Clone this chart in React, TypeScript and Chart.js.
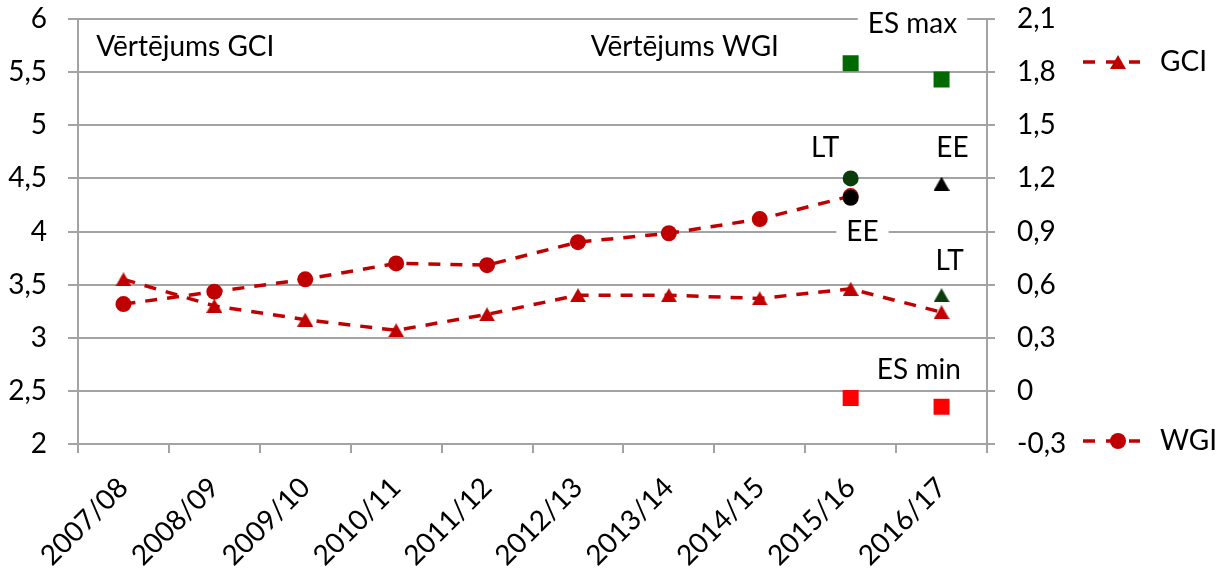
import React, { useEffect, useRef } from 'react';
import { Chart, registerables } from 'chart.js';

Chart.register(...registerables);

const categories = ['2007/08', '2008/09', '2009/10', '2010/11', '2011/12', '2012/13', '2013/14', '2014/15', '2015/16', '2016/17'];
const gciValues = [3.55, 3.30, 3.17, 3.07, 3.22, 3.40, 3.40, 3.37, 3.46, 3.24];
const wgiValues = [0.49, 0.56, 0.63, 0.72, 0.71, 0.84, 0.89, 0.97, 1.10, null];
const esMaxWgi = [null, null, null, null, null, null, null, null, 1.85, null];
const esMaxGci = [null, null, null, null, null, null, null, null, null, 5.43];
const esMinWgi = [null, null, null, null, null, null, null, null, -0.04, null];
const esMinGci = [null, null, null, null, null, null, null, null, null, 2.35];
const ltWgi = [null, null, null, null, null, null, null, null, 1.20, null];
const eeWgi = [null, null, null, null, null, null, null, null, 1.09, null];
const eeGci = [null, null, null, null, null, null, null, null, null, 4.45];
const ltGci = [null, null, null, null, null, null, null, null, null, 3.40];

const leftTickLabels = ['2', '2,5', '3', '3,5', '4', '4,5', '5', '5,5', '6'];
const rightTickLabels = ['-0,3', '0', '0,3', '0,6', '0,9', '1,2', '1,5', '1,8', '2,1'];

// annotation texts: category position (index), left-axis value, alignment, white background
const noteTexts = ['Vērtējums GCI', 'Vērtējums WGI', 'ES max', 'LT', 'EE', 'EE', 'LT', 'ES min'];
const notePos = [-0.3, 5.14, 8.68, 7.72, 9.12, 8.13, 9.09, 8.75];
const noteValue = [5.74, 5.74, 5.95, 4.79, 4.79, 4.0, 3.72, 2.70];
const noteAlign = ['left', 'left', 'center', 'center', 'center', 'center', 'center', 'center'];
const noteBg = [false, false, true, false, false, true, false, false];

const FONT = 'Lato';
const FS = 28;
const RED = '#c00000';
const GRID = '#a3a3a3';
const GREEN = '#006a00';
const DARKGREEN = '#0a3d0a';

function triangleImage(color: string, w = 16, h = 14) {
  const c = document.createElement('canvas');
  c.width = w;
  c.height = h;
  const ctx = c.getContext('2d')!;
  ctx.fillStyle = color;
  ctx.beginPath();
  ctx.moveTo(w / 2, 0);
  ctx.lineTo(w, h);
  ctx.lineTo(0, h);
  ctx.closePath();
  ctx.fill();
  return c;
}

export default function App() {
  const ref = useRef<HTMLCanvasElement>(null);

  useEffect(() => {
    const triRed = triangleImage(RED);
    const triBlack = triangleImage('#000000');
    const triGreen = triangleImage(DARKGREEN);

    const pointOnly = (label: string, data: any[], axis: string, style: any, color: string, radius: number) => ({
      label,
      data,
      yAxisID: axis,
      showLine: false,
      pointStyle: style,
      pointRadius: radius,
      pointHoverRadius: radius,
      pointBackgroundColor: color,
      pointBorderWidth: 0,
      borderColor: color,
      backgroundColor: color,
    });

    const notesPlugin = {
      id: 'notes',
      beforeDatasetsDraw(chart: any) {
        const ctx = chart.ctx;
        const xs = chart.scales.x;
        const ys = chart.scales.y;
        ctx.save();
        ctx.font = `${FS}px ${FONT}`;
        ctx.textBaseline = 'middle';
        noteTexts.forEach((t, i) => {
          const cx = xs.getPixelForValue(notePos[i]);
          const cy = ys.getPixelForValue(noteValue[i]);
          const w = ctx.measureText(t).width;
          const left = noteAlign[i] === 'left' ? cx : cx - w / 2;
          if (noteBg[i]) {
            ctx.fillStyle = '#ffffff';
            ctx.fillRect(left - 10, cy - 14, w + 20, 28);
          }
          ctx.fillStyle = '#000000';
          ctx.textAlign = 'left';
          ctx.fillText(t, left, cy);
        });
        ctx.restore();
      },
      afterDraw(chart: any) {
        const ctx = chart.ctx;
        const a = chart.chartArea;
        const items = [
          { text: 'GCI', y: a.top + 43, marker: 'tri' },
          { text: 'WGI', y: a.bottom - 3, marker: 'circle' },
        ];
        ctx.save();
        items.forEach((it) => {
          const x0 = a.right + 96;
          const x1 = a.right + 153;
          ctx.strokeStyle = RED;
          ctx.lineWidth = 3.5;
          ctx.setLineDash([12, 11]);
          ctx.beginPath();
          ctx.moveTo(x0, it.y);
          ctx.lineTo(x1, it.y);
          ctx.stroke();
          ctx.setLineDash([]);
          const mx = a.right + 131;
          if (it.marker === 'tri') {
            ctx.drawImage(triRed, mx - 8, it.y - 7);
          } else {
            ctx.fillStyle = RED;
            ctx.beginPath();
            ctx.arc(mx, it.y, 8, 0, Math.PI * 2);
            ctx.fill();
          }
          ctx.fillStyle = '#000000';
          ctx.font = `${FS}px ${FONT}`;
          ctx.textBaseline = 'middle';
          ctx.textAlign = 'left';
          ctx.fillText(it.text, a.right + 173, it.y);
        });
        ctx.restore();
      },
    };

    const noVPad = (w: number) => (s: any) => { s.width = w; s.paddingTop = 0; s.paddingBottom = 0; };

    const chart = new Chart(ref.current!, {
      type: 'line',
      data: {
        labels: categories,
        datasets: [
          pointOnly('EE WGI', eeWgi, 'y1', 'circle', '#000000', 8),
          pointOnly('LT WGI', ltWgi, 'y1', 'circle', DARKGREEN, 8),
          pointOnly('EE GCI', eeGci, 'y', triBlack, '#000000', 8),
          pointOnly('LT GCI', ltGci, 'y', triGreen, DARKGREEN, 8),
          pointOnly('ES max WGI', esMaxWgi, 'y1', 'rect', GREEN, 11.3),
          pointOnly('ES max GCI', esMaxGci, 'y', 'rect', GREEN, 11.3),
          pointOnly('ES min WGI', esMinWgi, 'y1', 'rect', '#ff0000', 11.3),
          pointOnly('ES min GCI', esMinGci, 'y', 'rect', '#ff0000', 11.3),
          {
            label: 'GCI',
            data: gciValues,
            yAxisID: 'y',
            borderColor: RED,
            backgroundColor: RED,
            borderWidth: 3.5,
            borderDash: [12, 10],
            pointStyle: triRed,
            pointRadius: 8,
            pointBackgroundColor: RED,
            pointBorderWidth: 0,
            tension: 0,
          },
          {
            label: 'WGI',
            data: wgiValues,
            yAxisID: 'y1',
            borderColor: RED,
            backgroundColor: RED,
            borderWidth: 3.5,
            borderDash: [12, 10],
            pointStyle: 'circle',
            pointRadius: 8,
            pointBackgroundColor: RED,
            pointBorderWidth: 0,
            tension: 0,
          },
        ],
      },
      options: {
        animation: false,
        responsive: true,
        maintainAspectRatio: false,
        layout: { padding: { top: 19, left: 0, right: 0, bottom: 0 } },
        plugins: { legend: { display: false }, tooltip: { enabled: false } },
        scales: {
          x: {
            type: 'category',
            offset: true,
            grid: { offset: true, drawOnChartArea: false, drawTicks: true, tickLength: 9, color: GRID, lineWidth: 2 },
            border: { display: true, color: GRID, width: 2 },
            ticks: {
              minRotation: 45,
              maxRotation: 45,
              autoSkip: false,
              color: '#000000',
              padding: 18,
              font: { family: FONT, size: FS },
            },
            afterFit: (s: any) => { s.height = 125; s.paddingLeft = 0; s.paddingRight = 0; },
          },
          y: {
            position: 'left',
            min: 2,
            max: 6,
            ticks: {
              stepSize: 0.5,
              color: '#000000',
              padding: 21,
              font: { family: FONT, size: FS },
              callback: (v: any) => leftTickLabels[Math.round((Number(v) - 2) / 0.5)],
            },
            grid: { color: GRID, lineWidth: 2, tickLength: 10, drawTicks: true },
            border: { display: true, color: GRID, width: 2 },
            afterFit: noVPad(78),
          },
          y1: {
            position: 'right',
            min: -0.3,
            max: 2.1,
            ticks: {
              stepSize: 0.3,
              color: '#000000',
              padding: 22,
              font: { family: FONT, size: FS },
              callback: (v: any) => rightTickLabels[Math.round((Number(v) + 0.3) / 0.3)],
            },
            grid: { drawOnChartArea: false, color: GRID, lineWidth: 2, tickLength: 8, drawTicks: true },
            border: { display: true, color: GRID, width: 2 },
            afterFit: noVPad(230),
          },
        },
      },
      plugins: [notesPlugin],
    } as any);

    return () => chart.destroy();
  }, []);

  return (
    <div style={{ position: 'absolute', left: 0, top: 0, width: 1217, height: 569, background: '#ffffff' }}>
      <canvas ref={ref} />
    </div>
  );
}
